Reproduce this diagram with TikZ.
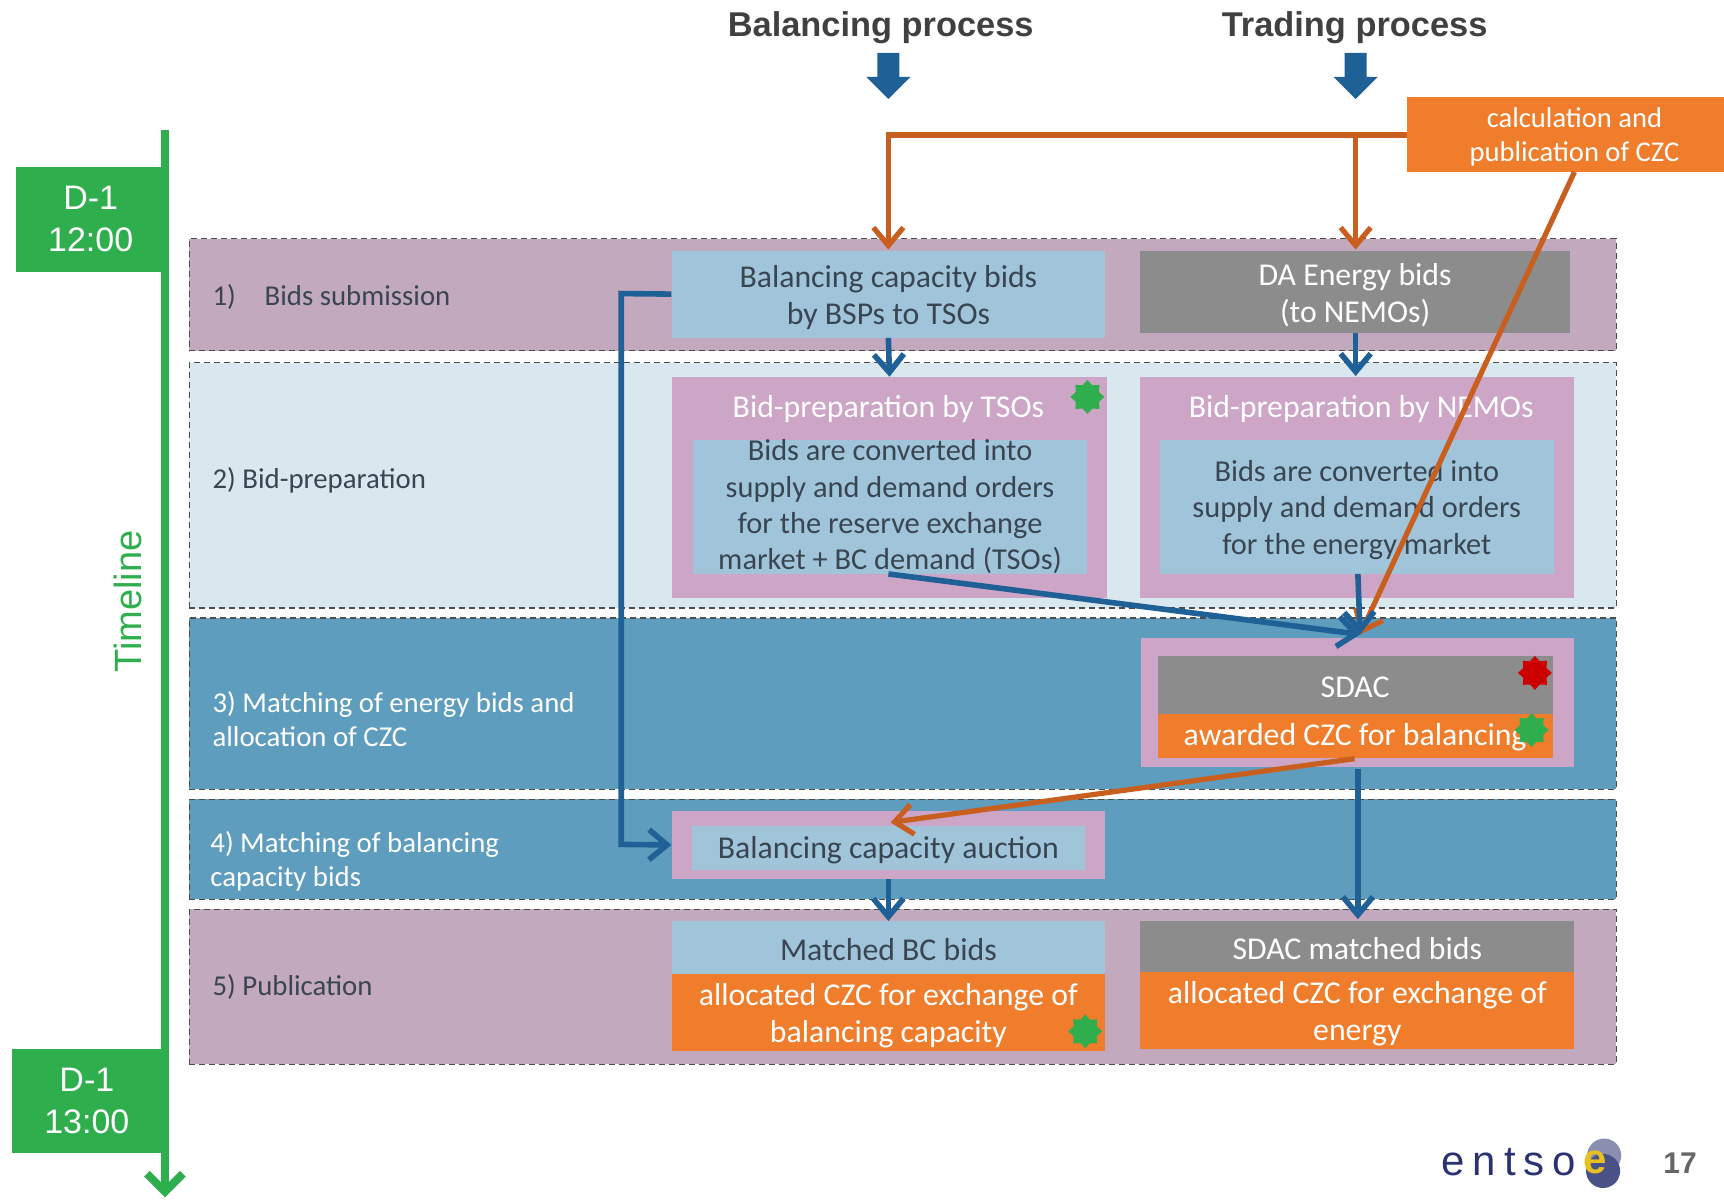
\documentclass[tikz,border=0pt]{standalone}
\usepackage{fontspec}
\setmainfont{Carlito}
\newfontfamily\headfont{Liberation Sans}
\usetikzlibrary{arrows.meta,shapes.geometric}
\definecolor{bandpink}{HTML}{C2A9BD}
\definecolor{bandpale}{HTML}{D9E7EE}
\definecolor{bandblue}{HTML}{5F9DBE}
\definecolor{boxblue}{HTML}{A0C4DA}
\definecolor{boxpink}{HTML}{CDA5C7}
\definecolor{boxgrey}{HTML}{8C8C8C}
\definecolor{boxorange}{HTML}{F07D2B}
\definecolor{linkblue}{HTML}{1F6096}
\definecolor{linkorange}{HTML}{C85F1E}
\definecolor{timegreen}{HTML}{2FAE4E}
\definecolor{inkdark}{HTML}{3A4552}
\definecolor{logonavy}{HTML}{2A3272}
\definecolor{logoyellow}{HTML}{E8C020}
\newcommand{\pxu}{0.55pt}
\begin{document}
\begin{tikzpicture}[
  x=0.55pt, y=-0.55pt,
  band/.style={draw=black!70, densely dashed, line width=0.6pt, minimum width=1298*\pxu},
  box/.style={inner sep=0pt, align=center, font=\fontsize{15.9}{18.7}\selectfont, execute at begin node=\rule{0pt}{13pt}},
  tallstrut/.style={execute at begin node=\rule{0pt}{#1}},
  lightbox/.style={box, fill=boxblue, text=inkdark},
  greybox/.style={box, fill=boxgrey, text=white},
  orangebox/.style={box, fill=boxorange, text=white},
  pinkbox/.style={box, fill=boxpink, text=white},
  innertext/.style={font=\fontsize{15.2}{18.2}\selectfont},
  steplabel/.style={anchor=west, align=left, inner sep=0pt, font=\fontsize{14.4}{17}\selectfont},
  blueline/.style={draw=linkblue, line width=2.8pt, -{Straight Barb[length=9pt,width=15pt]}},
  orangeline/.style={draw=linkorange, line width=2.6pt, -{Straight Barb[length=9pt,width=15pt]}},
  burst/.style={star, star points=8, star point ratio=1.35, minimum size=17pt, inner sep=0pt},
  dayflag/.style={fill=timegreen, text=white, inner sep=0pt, align=center, font=\headfont\fontsize{17}{21}\selectfont},
  headline/.style={font=\headfont\bfseries\fontsize{17.2}{20}\selectfont, text=black!75},
  fatarrow/.style={fill=linkblue},
]
\useasboundingbox (0,0) rectangle (1568,1091);

% Bands
\node[band, fill=bandpink, minimum height=102*\pxu] (band1) at (821,268) {};
\node[band, fill=bandpale, minimum height=223*\pxu] (band2) at (821,441.5) {};
\node[band, fill=bandblue, minimum height=156*\pxu] (band3) at (821,640) {};
\node[band, fill=bandblue, minimum height=91*\pxu] (band4) at (821,772.5) {};
\node[band, fill=bandpink, minimum height=141*\pxu] (band5) at (821,897.5) {};

% Band labels
\node[steplabel, text=inkdark] (step1) at (193,270) {1)\hspace{1em}Bids submission};
\node[steplabel, text=inkdark] (step2) at (193,437) {2) Bid-preparation};
\node[steplabel, text=white] (step3) at (193,654) {3) Matching of energy bids and\\allocation of CZC};
\node[steplabel, text=white] (step4) at (191,783) {4) Matching of balancing\\capacity bids};
\node[steplabel, text=inkdark] (step5) at (193,898) {5) Publication};

% Timeline
\draw[timegreen, line width=4pt, -{Straight Barb[length=9pt,width=18pt]}] (150,118) coordinate (linetop) -- (150,1089) coordinate (lineend);
\node[dayflag, minimum width=135*\pxu, minimum height=95*\pxu] (day1) at (82.5,199.5) {D-1\\12:00};
\node[dayflag, minimum width=136*\pxu, minimum height=95*\pxu] (day2) at (79,1001.5) {D-1\\13:00};
\node[rotate=90, text=timegreen, font=\headfont\fontsize{19}{22}\selectfont] (timeline) at (116,547) {Timeline};

% Process heads
\node[headline] (balhead) at (801,25) {Balancing process};
\node[headline] (trahead) at (1232,25) {Trading process};
\fill[fatarrow] (798,48) -- (818,48) -- (818,70) -- (828,70) -- (808,90) -- (788,70) -- (798,70) -- cycle;
\fill[fatarrow] (1223,48) -- (1243,48) -- (1243,70) -- (1253,70) -- (1233,90) -- (1213,70) -- (1223,70) -- cycle;

% CZC source
\node[orangebox, tallstrut=30pt, minimum width=304*\pxu, minimum height=68*\pxu, font=\fontsize{14.3}{17}\selectfont] (czc) at (1432,122) {calculation and\\publication of CZC};

% Balancing column
\node[lightbox, tallstrut=33pt, minimum width=394*\pxu, minimum height=79*\pxu] (bcbids) at (808,267.5) {Balancing capacity bids\\by BSPs to TSOs};
\node[pinkbox, minimum width=396*\pxu, minimum height=201*\pxu] (tsoprep) at (809,443.5) {};
\node[box, text=white] (tsotitle) at (808,370) {Bid-preparation by TSOs};
\node[lightbox, innertext, minimum width=359*\pxu, minimum height=122*\pxu] (tsoinner) at (809.5,461) {Bids are converted into\\supply and demand orders\\for the reserve exchange\\market + BC demand (TSOs)};
\node[pinkbox, minimum width=394*\pxu, minimum height=61*\pxu] (auction) at (808,768.5) {};
\node[lightbox, minimum width=358*\pxu, minimum height=40*\pxu] (auctioninner) at (808,771.5) {Balancing capacity auction};
\node[lightbox, minimum width=394*\pxu, minimum height=48*\pxu] (bcmatched) at (808,862) {Matched BC bids};
\node[orangebox, tallstrut=33pt, minimum width=394*\pxu, minimum height=70*\pxu] (bcalloc) at (808,921) {allocated CZC for exchange of\\balancing capacity};

% Trading column
\node[greybox, tallstrut=33pt, minimum width=391*\pxu, minimum height=75*\pxu] (dabids) at (1232.5,265.5) {DA Energy bids\\(to NEMOs)};
\node[pinkbox, minimum width=395*\pxu, minimum height=201*\pxu] (nemoprep) at (1234.5,443.5) {};
\node[box, text=white] (nemotitle) at (1238,370) {Bid-preparation by NEMOs};
\node[lightbox, innertext, tallstrut=50pt, minimum width=358*\pxu, minimum height=122*\pxu] (nemoinner) at (1234,461) {Bids are converted into\\supply and demand orders\\for the energy market};
\node[pinkbox, minimum width=394*\pxu, minimum height=118*\pxu] (sdac) at (1235,639) {};
\node[greybox, minimum width=359*\pxu, minimum height=52*\pxu] (sdactop) at (1232.5,623) {SDAC};
\node[orangebox, minimum width=359*\pxu, minimum height=40*\pxu] (sdacczc) at (1232.5,669) {awarded CZC for balancing};
\node[greybox, minimum width=395*\pxu, minimum height=46*\pxu] (sdacmatched) at (1234.5,861) {SDAC matched bids};
\node[orangebox, tallstrut=33pt, minimum width=395*\pxu, minimum height=70*\pxu] (sdacalloc) at (1234.5,919) {allocated CZC for exchange of\\energy};

% Stars
\node[burst, fill=timegreen] (star1) at (989,361) {};
\node[burst, fill=red!80!black] (star2) at (1396,612) {};
\node[burst, fill=timegreen] (star3) at (1393,664) {};
\node[burst, fill=timegreen] (star4) at (987,938) {};

% Links
\coordinate (balcorner) at (808,123);
\coordinate (tracorner) at (1233,123);
\coordinate (czcleft) at (1280,123);
\coordinate (balinlet) at (808,227);
\coordinate (trainlet) at (1233,227);
\coordinate (sdacczcfoot) at (1232,690);
\coordinate (auctionin) at (810,748);
\coordinate (sdacfoot) at (1235,699);
\coordinate (sdacmatchedtop) at (1235,836);
\coordinate (tsofoot) at (808,522);
\coordinate (nemofoot) at (1235,522);
\coordinate (sdactip) at (1237,577);
\coordinate (bidsturn) at (565,267);
\coordinate (auctionturn) at (565,768);
\coordinate (daoutlet) at (1233,303);
\coordinate (nemoinlet) at (1233,342);

\draw[draw=linkorange, line width=3.2pt] (czcleft) -- (balcorner);
\draw[orangeline, shorten <=-1.6pt] (balcorner) -- (balinlet);
\draw[orangeline] (tracorner) -- (trainlet);
\draw[orangeline] (czc.south) -- (sdactip);
\draw[blueline] (nemofoot) -- (sdactip);
\draw[blueline] (tsofoot) -- (sdactip);
\draw[orangeline] (sdacczcfoot) -- (auctionin);
\draw[blueline] (sdacfoot) -- (sdacmatchedtop);
\draw[blueline] (bcbids.west) -- (bidsturn) -- (auctionturn) -- (auction.west);
\draw[blueline] (bcbids.south) -- (tsoprep.north);
\draw[blueline] (daoutlet) -- (nemoinlet);
\draw[blueline] (auction.south) -- (bcmatched.north);

% Logo
\node[circle, fill=logonavy!55, minimum size=31*\pxu, inner sep=0pt] (logotop) at (1459,1051) {};
\node[circle, fill=logonavy!85, minimum size=31*\pxu, inner sep=0pt] (logobot) at (1458,1065) {};
\node[anchor=east, inner sep=0pt, font=\headfont\fontsize{21}{22}\selectfont, text=logonavy] (logo) at (1434,1057) {e\hspace{4pt}n\hspace{4pt}t\hspace{4pt}s\hspace{4pt}o};
\node[anchor=west, font=\headfont\bfseries\fontsize{21}{22}\selectfont, text=logoyellow, inner sep=0pt] (logoe) at (1440,1057) {e};
\node[font=\headfont\bfseries\fontsize{15}{16}\selectfont, text=black!60] (pageno) at (1528,1058) {17};
\end{tikzpicture}
\end{document}
